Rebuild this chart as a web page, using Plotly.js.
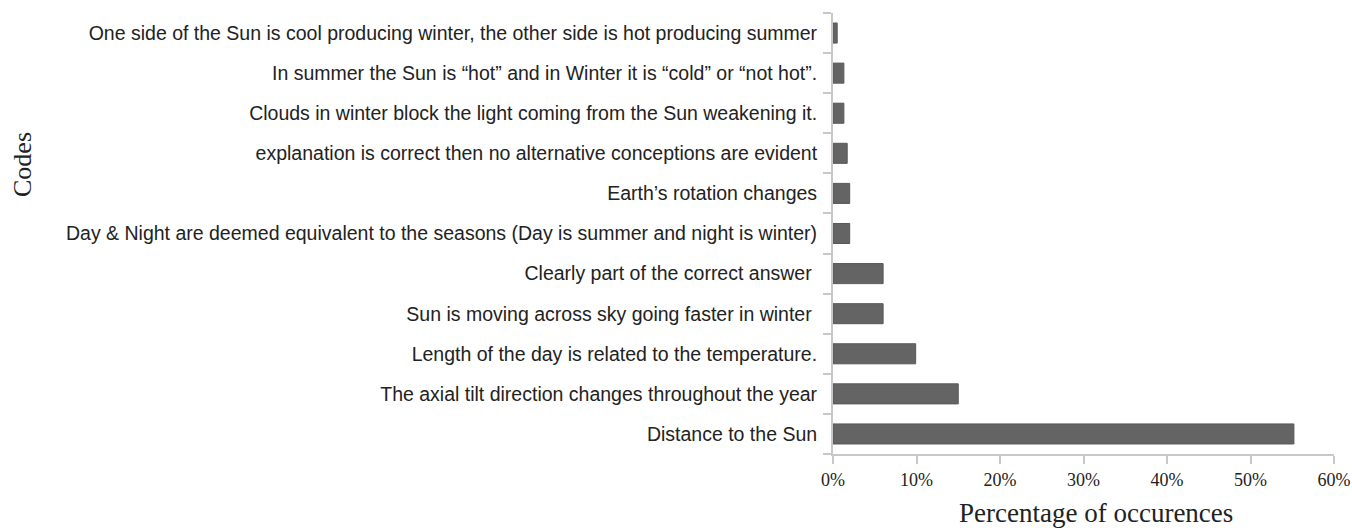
<!DOCTYPE html>
<html>
<head>
<meta charset="utf-8">
<script src="https://cdn.plot.ly/plotly-3.0.1.min.js"></script>
<style>html,body{margin:0;padding:0;background:#fff}#chart{width:1352px;height:531px}</style>
</head>
<body>
<div id="chart"></div>
<script>
const categories = [
  "Distance to the Sun",
  "The axial tilt direction changes throughout the year",
  "Length of the day is related to the temperature.",
  "Sun is moving across sky going faster in winter ",
  "Clearly part of the correct answer ",
  "Day & Night are deemed equivalent to the seasons (Day is summer and night is winter)",
  "Earth\u2019s rotation changes",
  "explanation is correct then no alternative conceptions are evident",
  "Clouds in winter block the light coming from the Sun weakening it.",
  "In summer the Sun is \u201chot\u201d and in Winter it is \u201ccold\u201d or \u201cnot hot\u201d.",
  "One side of the Sun is cool producing winter, the other side is hot producing summer"
];
const percentages = [55.2, 15.0, 9.9, 6.0, 6.0, 2.0, 2.0, 1.7, 1.3, 1.3, 0.5];
const xTicks = [0, 10, 20, 30, 40, 50, 60];
const xTickLabels = ["0%", "10%", "20%", "30%", "40%", "50%", "60%"];
const xTitle = "Percentage of occurences";
const yTitle = "Codes";

const W = 1352, H = 531;
const L = 833, R = 18, T = 13, B = 77;

const trace = {
  type: 'bar',
  orientation: 'h',
  x: percentages,
  y: categories,
  marker: {color: '#646464', line: {color: '#585858', width: 1}},
  hoverinfo: 'x+y'
};

const axisColor = '#c8c8c8';
const layout = {
  width: W, height: H,
  margin: {l: L, r: R, t: T, b: B, pad: 0},
  paper_bgcolor: '#fff', plot_bgcolor: '#fff',
  showlegend: false,
  bargap: 0.5,
  xaxis: {
    range: [0, 60],
    tickvals: xTicks, ticktext: xTickLabels,
    showgrid: false, zeroline: false,
    showline: true, linecolor: axisColor, linewidth: 2,
    ticks: 'outside', ticklen: 8, tickwidth: 2, tickcolor: axisColor,
    ticklabeloverflow: 'allow',
    tickfont: {family: 'Liberation Serif, Times New Roman, serif', size: 18, color: '#222'},
    fixedrange: true
  },
  yaxis: {
    type: 'category',
    categoryorder: 'array', categoryarray: categories,
    showgrid: false, zeroline: false,
    showline: true, linecolor: axisColor, linewidth: 2,
    ticks: 'outside', ticklen: 8, tickwidth: 2, tickcolor: axisColor,
    tickson: 'boundaries',
    ticklabelstandoff: 10,
    tickfont: {family: 'Liberation Sans, Arial, sans-serif', size: 19.5, color: '#222'},
    fixedrange: true
  },
  annotations: [
    {text: yTitle, xref: 'paper', yref: 'paper', x: (22 - L) / (W - L - R), y: (H - B - 165) / (H - T - B),
     showarrow: false, textangle: -90, xanchor: 'center', yanchor: 'middle',
     font: {family: 'Liberation Serif, Times New Roman, serif', size: 26, color: '#222'}},
    {text: xTitle, xref: 'paper', yref: 'paper', x: (1096 - L) / (W - L - R), y: (H - B - 530) / (H - T - B),
     showarrow: false, xanchor: 'center', yanchor: 'bottom',
     font: {family: 'Liberation Serif, Times New Roman, serif', size: 27, color: '#222'}}
  ]
};

Plotly.newPlot('chart', [trace], layout, {displayModeBar: false, staticPlot: true});
</script>
</body>
</html>
